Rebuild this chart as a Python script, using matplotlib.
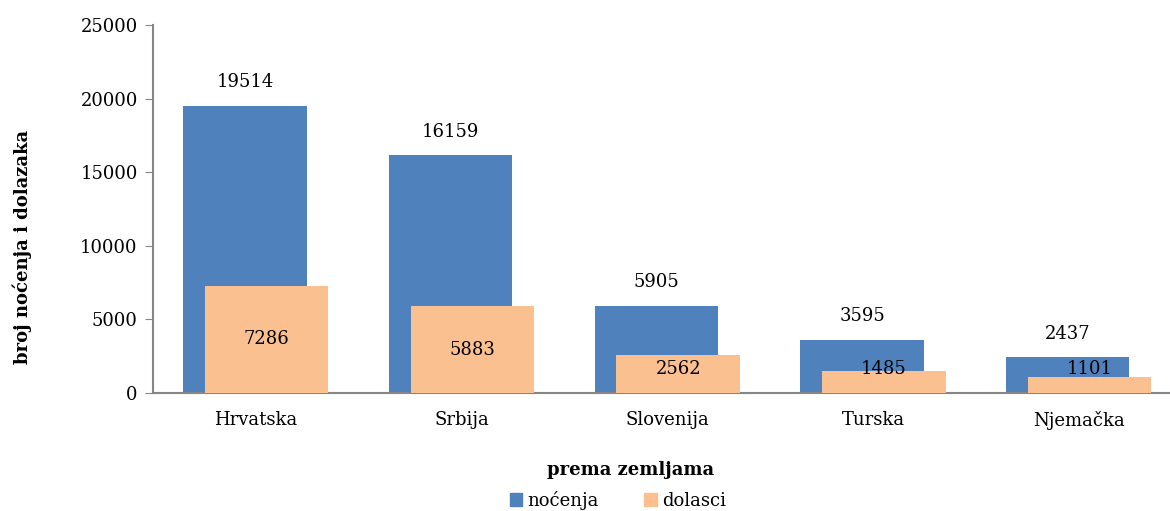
import matplotlib
matplotlib.use("Agg")
import matplotlib.pyplot as plt
from matplotlib.patches import Patch

countries = ["Hrvatska", "Srbija", "Slovenija", "Turska", "Njemačka"]
nocenja = [19514, 16159, 5905, 3595, 2437]
dolasci = [7286, 5883, 2562, 1485, 1101]
yticks = [0, 5000, 10000, 15000, 20000, 25000]

BLUE = "#4F81BD"
ORANGE = "#FAC090"
GREY = "#868686"

plt.rcParams["font.family"] = ["DejaVu Serif"]
plt.rcParams["font.size"] = 13

W, H = 1170, 511
fig = plt.figure(figsize=(W / 100, H / 100), dpi=100)
ax = fig.add_axes([153 / W, (H - 393) / H, 1028.5 / W, 368 / H])

x = list(range(len(countries)))
width = 0.6
off = 0.053
ax.bar([i - off for i in x], nocenja, width=width, color=BLUE, zorder=2)
ax.bar([i + off for i in x], dolasci, width=width, color=ORANGE, zorder=3)

for i, v in enumerate(nocenja):
    ax.annotate(str(v), (i - off, v), xytext=(0, 17), textcoords="offset points",
                ha="center", va="center", fontsize=13)
for i, v in enumerate(dolasci):
    ax.text(i + off, max(v / 2, 1630), str(v), ha="center", va="center",
            fontsize=13, zorder=4)

ax.set_xlim(-0.5, len(countries) - 0.5)
ax.set_ylim(0, 25000)
ax.set_yticks(yticks)
ax.set_xticks(x)
ax.set_xticklabels(countries)
ax.tick_params(axis="x", length=0, pad=13)
ax.tick_params(axis="y", length=6, color=GREY, pad=5)

for s in ["top", "right"]:
    ax.spines[s].set_visible(False)
for s in ["left", "bottom"]:
    ax.spines[s].set_color(GREY)
    ax.spines[s].set_linewidth(1.5)

fig.text(22 / W, 1 - 247 / H, "broj noćenja i dolazaka", rotation=90,
         ha="center", va="center", fontweight="bold", fontsize=13)
fig.text(631 / W, 1 - 470 / H, "prema zemljama", ha="center", va="center",
         fontweight="bold", fontsize=13)

handles = [Patch(color=BLUE, label="noćenja"), Patch(color=ORANGE, label="dolasci")]
fig.legend(handles=handles, loc="center", bbox_to_anchor=(618 / W, 1 - 500 / H),
           ncol=2, frameon=False, handlelength=0.7, handleheight=0.7,
           handletextpad=0.3, columnspacing=2.5, fontsize=13)

fig.savefig("out.png", dpi=100)
